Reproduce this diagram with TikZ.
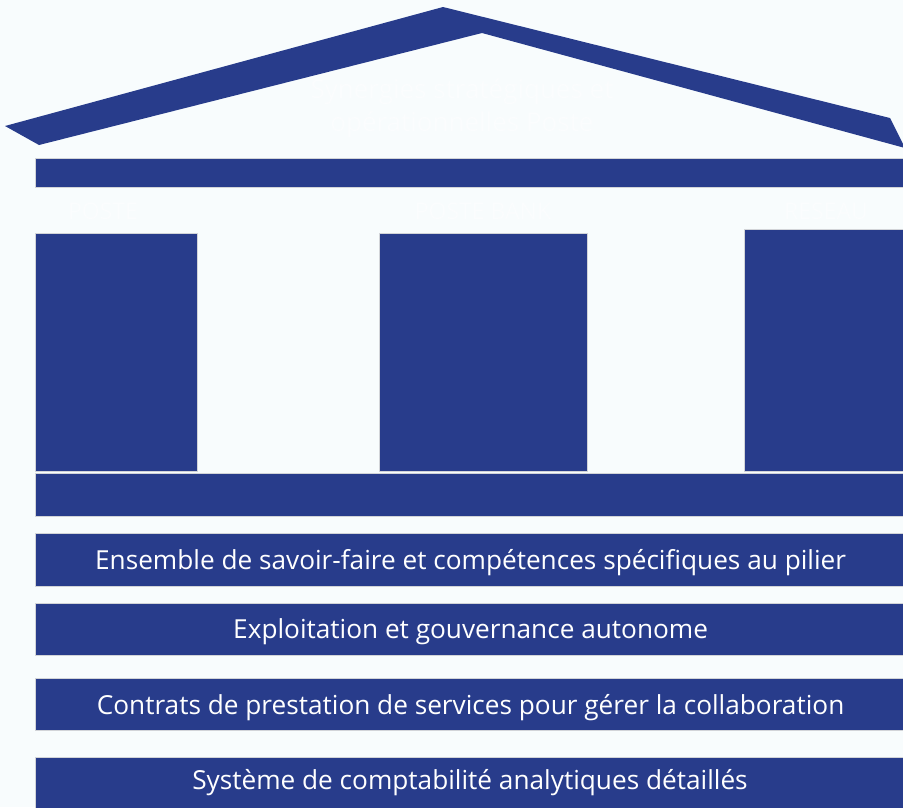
\documentclass[tikz,border=0pt]{standalone}
\usepackage{fontspec}
\setmainfont{Open Sans}
\definecolor{navy}{RGB}{40,60,139}
\definecolor{bg}{RGB}{248,252,253}
\definecolor{edge}{RGB}{210,212,216}
\definecolor{ghost}{RGB}{251,253,254}
\begin{document}
\begin{tikzpicture}[x=1pt,y=-1pt,
  block/.style={fill=navy,draw=edge,line width=1.2pt,inner sep=0pt,anchor=north west},
  bartext/.style={text=white,font=\fontsize{26.2}{30}\selectfont,yshift=-2.5pt},
  faint/.style={text=ghost,font=\fontsize{23}{33}\selectfont,inner sep=0pt}]
\useasboundingbox (0,0) rectangle (903,807);
\clip (0,0) rectangle (903,807);
\fill[bg] (0,0) rectangle (903,807);
% roof
\coordinate (lt) at (5,126);
\coordinate (ap) at (443,7);
\coordinate (rt) at (890,118);
\coordinate (rb) at (905,148);
\coordinate (ia) at (482,33);
\coordinate (lb) at (39,145);
\fill[navy] (lt) -- (ap) -- (rt) -- (rb) -- (ia) -- (lb) -- cycle;
\node[faint,align=center,font=\fontsize{26}{33}\selectfont] (rooftext) at (462,108) {Synergies stratégiques et\\opérationnelles Poste};
% beam
\node[block,minimum width=880pt,minimum height=29pt] (beam) at (35,158) {};
% column labels
\node[faint] (l1) at (103,211) {POSTE};
\node[faint] (l2) at (483,211) {POSTE BANK};
\node[faint] (l3) at (826,211) {RESEAU};
% columns
\node[block,minimum width=162pt,minimum height=238pt] (c1) at (35,233) {};
\node[block,minimum width=208pt,minimum height=238pt] (c2) at (379,233) {};
\node[block,minimum width=170pt,minimum height=242pt] (c3) at (744,229) {};
% base
\node[block,minimum width=880pt,minimum height=43pt] (base) at (35,473) {};
% bars
\node[block,minimum width=870pt,minimum height=53pt] (b1) at (35,533) {};
\node[bartext] (t1) at (b1.center) {Ensemble de savoir-faire et compétences spécifiques au pilier};
\node[block,minimum width=870pt,minimum height=52pt] (b2) at (35,603) {};
\node[bartext] (t2) at (b2.center) {Exploitation et gouvernance autonome};
\node[block,minimum width=870pt,minimum height=52pt] (b3) at (35,678) {};
\node[bartext] (t3) at (b3.center) {Contrats de prestation de services pour gérer la collaboration};
\node[block,minimum width=870pt,minimum height=52pt] (b4) at (35,757) {};
\node[bartext] (t4) at (470,780) {Système de comptabilité analytiques détaillés};
\end{tikzpicture}
\end{document}
